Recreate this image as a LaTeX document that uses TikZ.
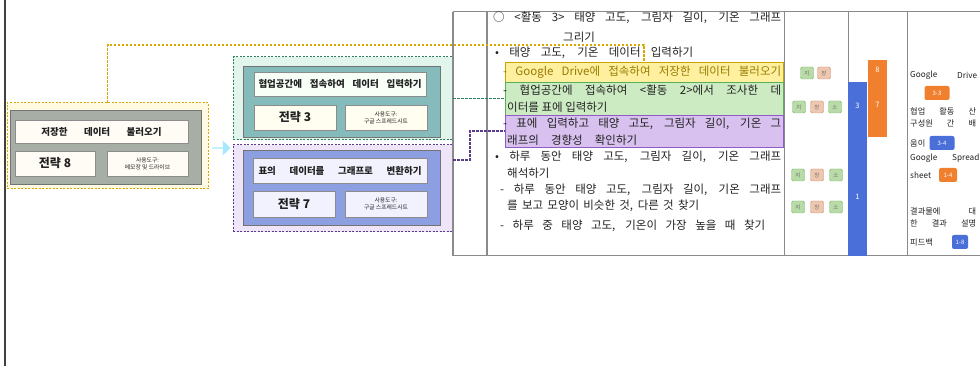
\documentclass[tikz,border=0pt]{standalone}
\usepackage{fontspec}
\setmainfont{Noto Sans CJK KR}
\usetikzlibrary{shapes.arrows}
\definecolor{ybord}{HTML}{D9A800}
\definecolor{yfill}{HTML}{FFFBE2}
\definecolor{grayin}{HTML}{A6AEA5}
\definecolor{gbord}{HTML}{2E7D5B}
\definecolor{gfill}{HTML}{E2F5EC}
\definecolor{tealin}{HTML}{86BBBB}
\definecolor{pbord}{HTML}{5A3A8A}
\definecolor{pfill}{HTML}{EEE6F8}
\definecolor{bluein}{HTML}{8C9FE0}
\definecolor{tabline}{HTML}{8A8A8A}
\definecolor{hly}{HTML}{FFF0A0}
\definecolor{hlyd}{HTML}{C9A400}
\definecolor{hlg}{HTML}{CDEBC3}
\definecolor{hlgd}{HTML}{5AAE5A}
\definecolor{hlp}{HTML}{D8C1EE}
\definecolor{hlpd}{HTML}{8E5CC4}
\definecolor{barblue}{HTML}{4A6FD8}
\definecolor{barorange}{HTML}{F0802E}
\definecolor{bgreen}{HTML}{7FB56A}
\definecolor{bgreenf}{HTML}{B9DBA8}
\definecolor{bpink}{HTML}{D09070}
\definecolor{bpinkf}{HTML}{EDC7B0}
\definecolor{txt}{HTML}{222222}
\begin{document}
\begin{tikzpicture}[x=1pt,y=-1pt,
  rect/.style={inner sep=0pt,outer sep=0pt,anchor=north west},
  outerbox/.style={rect,draw,dashed,line width=1pt,dash pattern=on 2pt off 1.5pt},
  innerbox/.style={rect,draw=black!55,line width=0.6pt},
  lightbox/.style={rect,draw=black!45,line width=0.5pt,text=txt},
  titlefont/.style={font=\fontsize{9.5}{10}\selectfont\bfseries},
  namefont/.style={font=\fontsize{12}{13}\selectfont\bfseries},
  toolfont/.style={font=\fontsize{5.8}{6.8}\selectfont,align=center},
  tabtxt/.style={anchor=west,inner sep=0pt,text=txt,font=\fontsize{11.5}{13}\selectfont},
  coltxt/.style={anchor=west,inner sep=0pt,text=txt,font=\fontsize{8.2}{9}\selectfont},
  hl/.style={rect,line width=0.8pt},
  cbadge/.style={draw=bgreen,fill=bgreenf,rounded corners=1.5pt,minimum width=13pt,minimum height=12pt,inner sep=0pt,text=black!55,font=\fontsize{5.5}{5.5}\selectfont},
  pbadge/.style={cbadge,draw=bpink,fill=bpinkf},
  sbadge/.style={rounded corners=2pt,inner sep=0pt,text=white,font=\fontsize{6}{6}\selectfont,minimum height=14pt},
  conn/.style={line width=1.1pt,dash pattern=on 2.5pt off 1.5pt},
  tline/.style={draw=tabline,line width=1pt}
]
\useasboundingbox (0,0) rectangle (980,366);
\fill[white] (0,0) rectangle (980,366);

% left vertical line
\draw[line width=2pt,black!75] (5,0) -- (5,366);

% ---------- strategy 8 ----------
\node[outerbox,draw=ybord,fill=yfill,minimum width=201pt,minimum height=86pt] (s8out) at (7,103) {};
\node[innerbox,fill=grayin,minimum width=191pt,minimum height=74pt] (s8in) at (10,110) {};
\node[lightbox,fill=yfill!70!orange!10,minimum width=173pt,minimum height=23pt,titlefont] (s8title) at (15,120) {\makebox[120pt][s]{저장한 데이터 불러오기}};
\node[lightbox,fill=yfill!70!orange!10,minimum width=80pt,minimum height=25pt,namefont] (s8name) at (15,151) {전략 8};
\node[lightbox,fill=yfill!70!orange!10,minimum width=81pt,minimum height=25pt,toolfont] (s8tool) at (107,151) {사용도구:\\메모장 및 드라이브};

% arrow
\node[single arrow,fill=blue!25!cyan!35!white,draw=none,minimum height=18pt,minimum width=15pt,single arrow head extend=2pt,inner sep=0pt] (arr) at (221,148) {};

% ---------- strategy 3 ----------
\node[outerbox,draw=gbord,fill=gfill,minimum width=220pt,minimum height=83pt] (s3out) at (233,57) {};
\node[innerbox,fill=tealin,minimum width=197pt,minimum height=71pt] (s3in) at (243,66) {};
\node[lightbox,fill=green!3!white,minimum width=172pt,minimum height=24pt,titlefont] (s3title) at (254,72) {\makebox[163pt][s]{협업공간에 접속하여 데이터 입력하기}};
\node[lightbox,fill=yellow!6!white,minimum width=82pt,minimum height=25pt,namefont] (s3name) at (254,105) {전략 3};
\node[lightbox,fill=yellow!6!white,minimum width=82pt,minimum height=25pt,toolfont] (s3tool) at (345,105) {사용도구:\\구글 스프레드시트};

% ---------- strategy 7 ----------
\node[outerbox,draw=pbord,fill=pfill,minimum width=220pt,minimum height=87pt] (s7out) at (233,145) {};
\node[innerbox,fill=bluein,minimum width=197pt,minimum height=75pt] (s7in) at (243,150) {};
\node[lightbox,fill=blue!5!white,minimum width=174pt,minimum height=25pt,titlefont] (s7title) at (253,158) {\makebox[163pt][s]{표의 데이터를 그래프로 변환하기}};
\node[lightbox,fill=blue!5!white,minimum width=82pt,minimum height=26pt,namefont] (s7name) at (253,191) {전략 7};
\node[lightbox,fill=blue!5!white,minimum width=82pt,minimum height=26pt,toolfont] (s7tool) at (345,191) {사용도구:\\구글 스프레드시트};

% ---------- table ----------
\draw[tline] (453,12) -- (980,12);
\draw[tline] (453,256) -- (980,256);
\draw[tline,line width=1.5pt] (453,12) -- (453,256);
\draw[tline,line width=1.5pt] (487,12) -- (487,256);
\draw[tline] (784,12) -- (784,256);
\draw[tline] (848,12) -- (848,256);
\draw[tline] (907,12) -- (907,256);

% highlights
\node[hl,draw=hlyd,fill=hly,minimum width=278pt,minimum height=20pt] (yl) at (505,62) {};
\node[hl,draw=hlgd,fill=hlg,minimum width=278pt,minimum height=33pt] (gl) at (505,82) {};
\node[hl,draw=hlpd,fill=hlp,minimum width=278pt,minimum height=32pt] (pl) at (505,115) {};

% column 2 text
\node[tabtxt] (t1) at (493,18) {\makebox[288pt][s]{○ <활동 3> 태양 고도, 그림자 길이, 기온 그래프}};
\node[tabtxt] (t2) at (563,37) {그리기};
\node[tabtxt] (t3) at (495,53) {\makebox[198pt][s]{• 태양 고도, 기온 데이터 입력하기}};
\node[tabtxt,text=hlyd!75!black] (t4) at (503,72) {\makebox[278pt][s]{- Google Drive에 접속하여 저장한 데이터 불러오기}};
\node[tabtxt] (t5) at (503,90) {\makebox[278pt][s]{- 협업공간에 접속하여 <활동 2>에서 조사한 데}};
\node[tabtxt] (t6) at (507,107) {이터를 표에 입력하기};
\node[tabtxt] (t7) at (503,124) {\makebox[278pt][s]{- 표에 입력하고 태양 고도, 그림자 길이, 기온 그}};
\node[tabtxt] (t8) at (507,140) {\makebox[130pt][s]{래프의 경향성 확인하기}};
\node[tabtxt] (t9) at (495,157) {\makebox[286pt][s]{• 하루 동안 태양 고도, 그림자 길이, 기온 그래프}};
\node[tabtxt] (t10) at (507,173) {해석하기};
\node[tabtxt] (t11) at (500,190) {\makebox[281pt][s]{- 하루 동안 태양 고도, 그림자 길이, 기온 그래프}};
\node[tabtxt] (t12) at (507,206) {\makebox[192pt][s]{를 보고 모양이 비슷한 것, 다른 것 찾기}};
\node[tabtxt] (t13) at (500,226) {\makebox[265pt][s]{- 하루 중 태양 고도, 기온이 가장 높을 때 찾기}};

% column 3 badges
\node[cbadge] (b11) at (807,73) {지};
\node[pbadge] (b12) at (824,73) {창};
\node[cbadge] (b21) at (799,107) {지};
\node[pbadge] (b22) at (817,107) {창};
\node[cbadge] (b23) at (835,107) {소};
\node[cbadge] (b31) at (798,175) {지};
\node[pbadge] (b32) at (817,175) {창};
\node[cbadge] (b33) at (836,175) {소};
\node[cbadge] (b41) at (798,207) {지};
\node[pbadge] (b42) at (817,207) {창};
\node[cbadge] (b43) at (836,207) {소};

% column 4 bars
\node[rect,fill=barblue,minimum width=19pt,minimum height=174pt] (bluebar) at (848,82) {};
\node[rect,fill=barorange,minimum width=19pt,minimum height=77pt] (orbar) at (868,60) {};
\node[text=white,font=\fontsize{7.5}{8}\selectfont,inner sep=0pt] (bl3) at (857.5,106) {3};
\node[text=white,font=\fontsize{7.5}{8}\selectfont,inner sep=0pt] (bl1) at (857.5,197) {1};
\node[text=white,font=\fontsize{7.5}{8}\selectfont,inner sep=0pt] (ol8) at (877.5,70) {8};
\node[text=white,font=\fontsize{7.5}{8}\selectfont,inner sep=0pt] (ol7) at (877.5,105) {7};

% column 5 text
\node[coltxt] (c1a) at (910,75) {Google};
\node[coltxt] (c1b) at (957,75) {Drive};
\node[sbadge,fill=barorange,minimum width=25pt] (cb1) at (937,93) {3-3};
\node[coltxt] (c2) at (910,111) {\makebox[66pt][s]{협업 활동 산}};
\node[coltxt] (c3) at (910,123) {\makebox[66pt][s]{구성원 간 배}};
\node[coltxt] (c4) at (910,143) {움이};
\node[sbadge,fill=barblue,minimum width=25pt] (cb2) at (942,143) {3-4};
\node[coltxt] (c5a) at (910,158) {Google};
\node[coltxt] (c5b) at (952,158) {Spread};
\node[coltxt] (c6) at (910,175) {sheet};
\node[sbadge,fill=barorange,minimum width=18pt] (cb3) at (948,175) {1-4};
\node[coltxt] (c7) at (910,211) {\makebox[66pt][s]{결과물에 대}};
\node[coltxt] (c8) at (910,223) {\makebox[66pt][s]{한 결과 설명}};
\node[coltxt] (c9) at (910,242) {피드백};
\node[sbadge,fill=barblue,minimum width=16pt] (cb4) at (960,242) {1-8};

% connectors
\coordinate (ytop) at (0,45);
\draw[conn,draw=ybord] (s8out.north) |- (ytop -| yl.north) -- (yl.north);
\draw[conn,draw=gbord] (s3out.east) -- (gl.west);
\coordinate (pbend) at (470,0);
\coordinate (pstart) at ([yshift=-15pt]s7out.north east);
\draw[conn,draw=pbord] (pstart) -| (pbend |- pl.west) -- (pl.west);
\end{tikzpicture}
\end{document}
